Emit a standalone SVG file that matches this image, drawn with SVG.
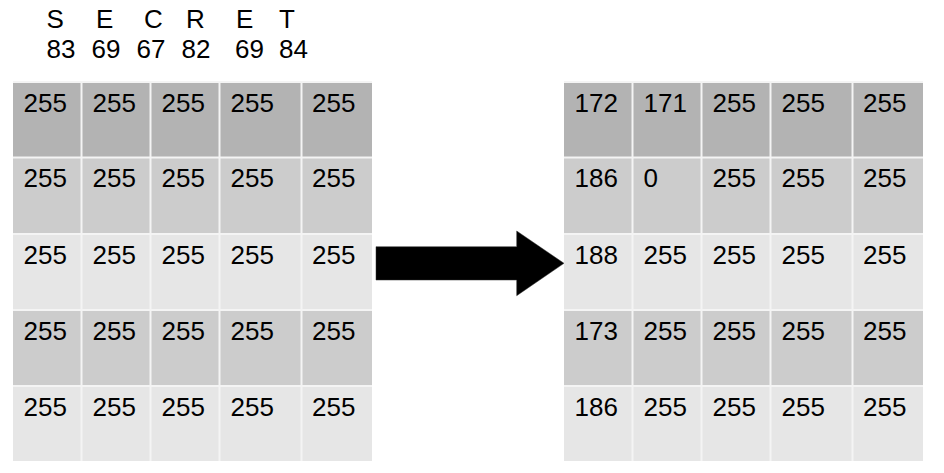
<svg xmlns="http://www.w3.org/2000/svg" width="944" height="473" viewBox="0 0 944 473">
<style>
text{font-family:"Liberation Sans",Arial,sans-serif;font-size:26px;fill:#000}
.r1{fill:#b3b3b3}.r2{fill:#cccccc}.r3{fill:#e6e6e6}
.grid line{stroke:#f4f4f4;stroke-width:2}
</style>
<rect width="944" height="473" fill="#fff"/>
<g id="secret-label">
<text x="46.5" y="27.5">S</text><text x="96" y="27.5">E</text><text x="144" y="27.5">C</text><text x="186" y="27.5">R</text><text x="236" y="27.5">E</text><text x="279" y="27.5">T</text>
<text x="46.5" y="58">83</text><text x="91.5" y="58">69</text><text x="136.5" y="58">67</text><text x="181.5" y="58">82</text><text x="235" y="58">69</text><text x="279" y="58">84</text>
</g>
<g id="grid-left" class="grid">
<rect class="r1" x="13" y="82" width="359" height="75.5"/>
<rect class="r2" x="13" y="157.5" width="359" height="76.5"/>
<rect class="r3" x="13" y="234" width="359" height="76"/>
<rect class="r2" x="13" y="310" width="359" height="76"/>
<rect class="r3" x="13" y="386" width="359" height="75"/>
<line x1="13" y1="82" x2="372" y2="82"/>
<line x1="13" y1="157.5" x2="372" y2="157.5"/><line x1="13" y1="234" x2="372" y2="234"/><line x1="13" y1="310" x2="372" y2="310"/><line x1="13" y1="386" x2="372" y2="386"/>
<line x1="81.5" y1="82" x2="81.5" y2="461"/><line x1="150.5" y1="82" x2="150.5" y2="461"/><line x1="219.5" y1="82" x2="219.5" y2="461"/><line x1="301.5" y1="82" x2="301.5" y2="461"/>
<text x="23.5" y="111.5">255</text><text x="92.5" y="111.5">255</text><text x="161.5" y="111.5">255</text><text x="230.5" y="111.5">255</text><text x="312" y="111.5">255</text>
<text x="23.5" y="187">255</text><text x="92.5" y="187">255</text><text x="161.5" y="187">255</text><text x="230.5" y="187">255</text><text x="312" y="187">255</text>
<text x="23.5" y="263.5">255</text><text x="92.5" y="263.5">255</text><text x="161.5" y="263.5">255</text><text x="230.5" y="263.5">255</text><text x="312" y="263.5">255</text>
<text x="23.5" y="340">255</text><text x="92.5" y="340">255</text><text x="161.5" y="340">255</text><text x="230.5" y="340">255</text><text x="312" y="340">255</text>
<text x="23.5" y="416">255</text><text x="92.5" y="416">255</text><text x="161.5" y="416">255</text><text x="230.5" y="416">255</text><text x="312" y="416">255</text>
</g>
<g id="connectors">
<polygon points="376,246.7 516.7,246.7 516.7,231 564,263.3 516.7,295.7 516.7,280 376,280" fill="#000" stroke="#333" stroke-width="0.5"/>
</g>
<g id="grid-right" class="grid">
<rect class="r1" x="564" y="82" width="359" height="75.5"/>
<rect class="r2" x="564" y="157.5" width="359" height="76.5"/>
<rect class="r3" x="564" y="234" width="359" height="76"/>
<rect class="r2" x="564" y="310" width="359" height="76"/>
<rect class="r3" x="564" y="386" width="359" height="75"/>
<line x1="564" y1="82" x2="923" y2="82"/>
<line x1="564" y1="157.5" x2="923" y2="157.5"/><line x1="564" y1="234" x2="923" y2="234"/><line x1="564" y1="310" x2="923" y2="310"/><line x1="564" y1="386" x2="923" y2="386"/>
<line x1="632.5" y1="82" x2="632.5" y2="461"/><line x1="701.5" y1="82" x2="701.5" y2="461"/><line x1="770.5" y1="82" x2="770.5" y2="461"/><line x1="852.5" y1="82" x2="852.5" y2="461"/>
<text x="574.5" y="111.5">172</text><text x="643.5" y="111.5">171</text><text x="712.5" y="111.5">255</text><text x="781.5" y="111.5">255</text><text x="863" y="111.5">255</text>
<text x="574.5" y="187">186</text><text x="643.5" y="187">0</text><text x="712.5" y="187">255</text><text x="781.5" y="187">255</text><text x="863" y="187">255</text>
<text x="574.5" y="263.5">188</text><text x="643.5" y="263.5">255</text><text x="712.5" y="263.5">255</text><text x="781.5" y="263.5">255</text><text x="863" y="263.5">255</text>
<text x="574.5" y="340">173</text><text x="643.5" y="340">255</text><text x="712.5" y="340">255</text><text x="781.5" y="340">255</text><text x="863" y="340">255</text>
<text x="574.5" y="416">186</text><text x="643.5" y="416">255</text><text x="712.5" y="416">255</text><text x="781.5" y="416">255</text><text x="863" y="416">255</text>
</g>
</svg>
